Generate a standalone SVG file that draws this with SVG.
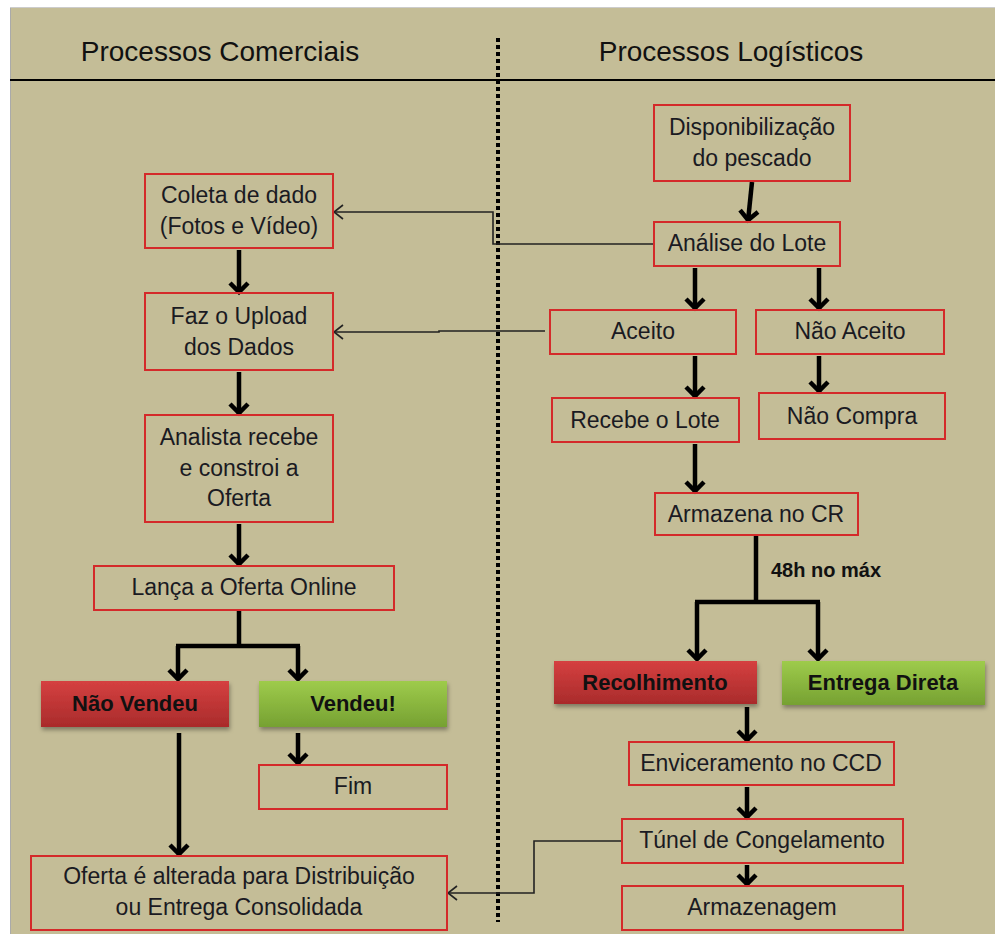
<svg xmlns="http://www.w3.org/2000/svg" width="995" height="934" viewBox="0 0 995 934">
<defs>
<style>
.box{fill:none;stroke:#d42a2a;stroke-width:2}
.t{font-family:"Liberation Sans",Arial,sans-serif;font-size:23px;fill:#1a1a22;text-anchor:middle}
.b{font-family:"Liberation Sans",Arial,sans-serif;font-size:22px;font-weight:bold;fill:#111;text-anchor:middle}
.h{font-family:"Liberation Sans",Arial,sans-serif;font-size:28px;fill:#111;text-anchor:middle}
.thick{fill:none;stroke:#000;stroke-width:4.5;marker-end:url(#ah)}
.thickn{fill:none;stroke:#000;stroke-width:4.5}
.thin{fill:none;stroke:#222;stroke-width:1.6;marker-end:url(#at)}
</style>
<marker id="ah" markerUnits="userSpaceOnUse" markerWidth="26" markerHeight="26" viewBox="-13 -13 26 26" refX="0" refY="0" orient="auto">
<path d="M-10,-9 L-1,0 L-10,9" fill="none" stroke="#000" stroke-width="4.5"/>
</marker>
<marker id="at" markerUnits="userSpaceOnUse" markerWidth="20" markerHeight="20" viewBox="-10 -10 20 20" refX="0" refY="0" orient="auto">
<path d="M-9,-7 L0,0 L-9,7" fill="none" stroke="#222" stroke-width="1.6"/>
</marker>
<linearGradient id="gr" x1="0" y1="0" x2="0" y2="1">
<stop offset="0" stop-color="#d54040"/><stop offset="1" stop-color="#a92b2b"/>
</linearGradient>
<linearGradient id="gg" x1="0" y1="0" x2="0" y2="1">
<stop offset="0" stop-color="#9ecb4b"/><stop offset="1" stop-color="#76a132"/>
</linearGradient>
<filter id="sh" x="-10%" y="-20%" width="130%" height="160%">
<feDropShadow dx="1" dy="3" stdDeviation="2" flood-color="#000" flood-opacity="0.35"/>
</filter>
</defs>
<rect x="0" y="0" width="995" height="934" fill="#ffffff"/>
<rect x="10" y="7" width="985" height="927" fill="#c4bd97"/>
<line x1="10.5" y1="7" x2="10.5" y2="934" stroke="#aaa" stroke-width="1"/>
<line x1="10" y1="7.5" x2="995" y2="7.5" stroke="#ccc" stroke-width="1"/>

<g id="header">
<line x1="10" y1="80" x2="995" y2="80" stroke="#000" stroke-width="2"/>
<line x1="498" y1="38" x2="498" y2="922" stroke="#000" stroke-width="4" stroke-dasharray="4 3"/>
<text class="h" x="220" y="61">Processos Comerciais</text>
<text class="h" x="731" y="61">Processos Logísticos</text>
</g>

<g id="connectors">
<path class="thick" d="M239,250 V293"/>
<path class="thick" d="M239,372 V414"/>
<path class="thick" d="M239,524 V565"/>
<path class="thickn" d="M239,610 V646 M176,646 H300"/>
<path class="thick" d="M178,646 V680"/>
<path class="thick" d="M298,646 V680"/>
<path class="thick" d="M179,733 V855"/>
<path class="thick" d="M298,733 V764"/>
<path class="thick" d="M752,182 L748,221"/>
<path class="thick" d="M695,268 V309"/>
<path class="thick" d="M819,268 V309"/>
<path class="thick" d="M695,356 V397"/>
<path class="thick" d="M819,356 V392"/>
<path class="thick" d="M695,444 V492"/>
<path class="thickn" d="M756,536 V602 M695,602 H820"/>
<path class="thick" d="M697,602 V660"/>
<path class="thick" d="M818,602 V660"/>
<path class="thick" d="M747,707 V741"/>
<path class="thick" d="M747,787 V818"/>
<path class="thick" d="M747,865 V885"/>
<path class="thin" d="M654,244 H493 V212 H334"/>
<path class="thin" d="M545,331 H439 V332 H334"/>
<path class="thin" d="M622,841 H534 V893 H448"/>
<text x="771" y="577" font-family="'Liberation Sans',Arial,sans-serif" font-size="20" font-weight="bold" fill="#111">48h no máx</text>
</g>

<g id="coleta"><rect class="box" x="145" y="174" width="188" height="74"/>
<text class="t" x="239" y="203">Coleta de dado</text><text class="t" x="239" y="234">(Fotos e Vídeo)</text></g>
<g id="upload"><rect class="box" x="145" y="293" width="188" height="77"/>
<text class="t" x="239" y="324">Faz o Upload</text><text class="t" x="239" y="355">dos Dados</text></g>
<g id="analista"><rect class="box" x="145" y="415" width="188" height="107"/>
<text class="t" x="239" y="445">Analista recebe</text><text class="t" x="239" y="476">e constroi a</text><text class="t" x="239" y="506">Oferta</text></g>
<g id="lanca"><rect class="box" x="94" y="566" width="300" height="44"/>
<text class="t" x="244" y="595">Lança a Oferta Online</text></g>
<g id="naovendeu"><rect x="41" y="681" width="188" height="46" fill="url(#gr)" filter="url(#sh)"/>
<text class="b" x="135" y="711">Não Vendeu</text></g>
<g id="vendeu"><rect x="259" y="681" width="188" height="46" fill="url(#gg)" filter="url(#sh)"/>
<text class="b" x="353" y="711">Vendeu!</text></g>
<g id="fim"><rect class="box" x="259" y="765" width="188" height="44"/>
<text class="t" x="353" y="794">Fim</text></g>
<g id="oferta"><rect class="box" x="31" y="856" width="416" height="74"/>
<text class="t" x="239" y="884">Oferta é alterada para Distribuição</text><text class="t" x="239" y="915">ou Entrega Consolidada</text></g>

<g id="disponibilizacao"><rect class="box" x="654" y="105" width="196" height="76"/>
<text class="t" x="752" y="135">Disponibilização</text><text class="t" x="752" y="166">do pescado</text></g>
<g id="analise"><rect class="box" x="654" y="222" width="186" height="44"/>
<text class="t" x="747" y="251">Análise do Lote</text></g>
<g id="aceito"><rect class="box" x="550" y="310" width="186" height="44"/>
<text class="t" x="643" y="339">Aceito</text></g>
<g id="naoaceito"><rect class="box" x="756" y="310" width="188" height="44"/>
<text class="t" x="850" y="339">Não Aceito</text></g>
<g id="recebe"><rect class="box" x="552" y="398" width="187" height="44"/>
<text class="t" x="645" y="428">Recebe o Lote</text></g>
<g id="naocompra"><rect class="box" x="759" y="393" width="186" height="46"/>
<text class="t" x="852" y="424">Não Compra</text></g>
<g id="armazena"><rect class="box" x="655" y="493" width="203" height="42"/>
<text class="t" x="756" y="522">Armazena no CR</text></g>
<g id="recolhimento"><rect x="554" y="661" width="203" height="43" fill="url(#gr)" filter="url(#sh)"/>
<text class="b" x="655" y="690">Recolhimento</text></g>
<g id="entrega"><rect x="782" y="661" width="203" height="44" fill="url(#gg)" filter="url(#sh)"/>
<text class="b" x="883" y="690">Entrega Direta</text></g>
<g id="enviceramento"><rect class="box" x="629" y="742" width="265" height="43"/>
<text class="t" x="761" y="771">Enviceramento no CCD</text></g>
<g id="tunel"><rect class="box" x="622" y="819" width="281" height="44"/>
<text class="t" x="762" y="848">Túnel de Congelamento</text></g>
<g id="armazenagem"><rect class="box" x="622" y="886" width="281" height="44"/>
<text class="t" x="762" y="915">Armazenagem</text></g>
</svg>
